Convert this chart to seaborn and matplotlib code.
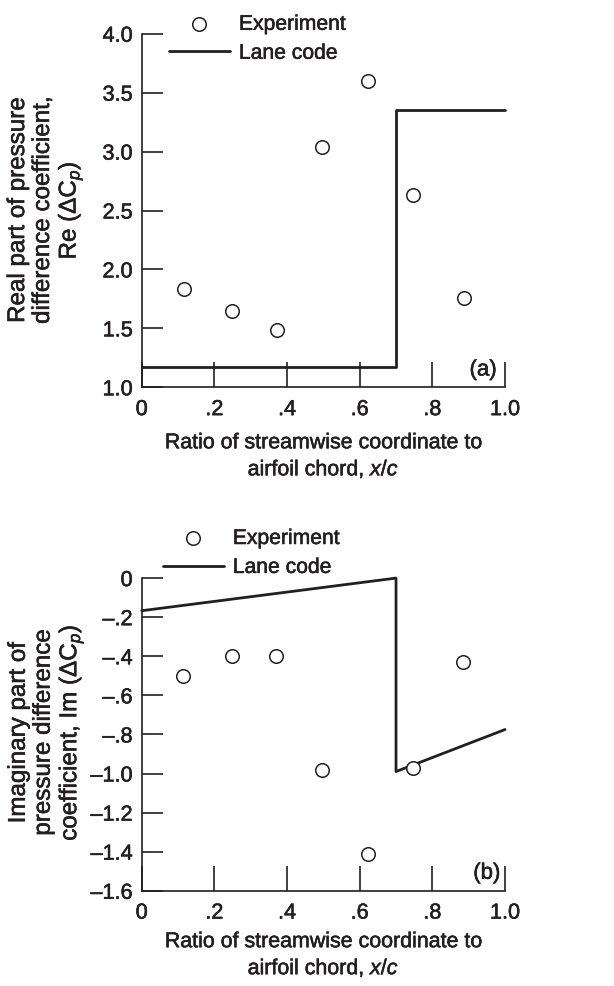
import matplotlib
matplotlib.use("Agg")
import matplotlib.pyplot as plt
import matplotlib.patheffects as pe
import pandas as pd
import seaborn as sns

# Experimental points (chordwise station, value)
x_exp_re = [0.117, 0.248, 0.372, 0.495, 0.622, 0.746, 0.887]
re_exp = [1.83, 1.65, 1.49, 3.04, 3.60, 2.63, 1.76]
x_exp_im = [0.115, 0.248, 0.370, 0.496, 0.624, 0.748, 0.885]
im_exp = [-0.50, -0.40, -0.40, -0.98, -1.41, -0.97, -0.43]

# Lane code prediction (piecewise, with a jump at x/c = 0.7)
x_lane = [0.0, 0.70, 0.70, 1.0]
re_lane = [1.17, 1.17, 3.35, 3.35]
im_lane = [-0.167, 0.0, -0.99, -0.775]

# Axis ticks and labels
x_ticks = [0.0, 0.2, 0.4, 0.6, 0.8, 1.0]
x_ticklabels = ["0", ".2", ".4", ".6", ".8", "1.0"]
re_ticks = [1.0, 1.5, 2.0, 2.5, 3.0, 3.5, 4.0]
re_ticklabels = ["1.0", "1.5", "2.0", "2.5", "3.0", "3.5", "4.0"]
im_ticks = [0.0, -0.2, -0.4, -0.6, -0.8, -1.0, -1.2, -1.4, -1.6]
im_ticklabels = ["0", "\u2013.2", "\u2013.4", "\u2013.6", "\u2013.8",
                 "\u20131.0", "\u20131.2", "\u20131.4", "\u20131.6"]

xlabel = "Ratio of streamwise coordinate to\nairfoil chord, $x/c$"
re_label = "Real part of pressure\ndifference coefficient,\nRe ($\\Delta\\mathrm{C}_p$)"
im_label = "Imaginary part of\npressure difference\ncoefficient, Im ($\\Delta\\mathrm{C}_p$)"

sns.set_theme(style="ticks")
INK = "#231f20"
FS_TICK = 15.6
FS_YLAB = 17.4
FS_XLAB = 15.4
FS_LEG = 15.2
FS_TAG = 16
plt.rcParams.update({
    "font.family": ["Liberation Sans", "DejaVu Sans"],
    "font.size": 16,
    "mathtext.fontset": "custom",
    "mathtext.rm": "Liberation Sans",
    "mathtext.it": "Liberation Sans:italic",
    "mathtext.bf": "Liberation Sans:bold",
    "text.color": INK,
    "axes.labelcolor": INK,
    "xtick.color": INK,
    "ytick.color": INK,
    "axes.edgecolor": INK,
    "axes.linewidth": 1.2,
})
# slightly heavier strokes for all lettering
HEAVY = [pe.withStroke(linewidth=0.4, foreground=INK)]

fig = plt.figure(figsize=(6.14, 9.86), dpi=100)
ax_re = fig.add_axes([0.2308, 0.6072, 0.5917, 0.3586])
ax_im = fig.add_axes([0.2308, 0.0966, 0.5917, 0.3171])

df_re_exp = pd.DataFrame({"x": x_exp_re, "y": re_exp})
df_im_exp = pd.DataFrame({"x": x_exp_im, "y": im_exp})
df_re_lane = pd.DataFrame({"x": x_lane, "y": re_lane})
df_im_lane = pd.DataFrame({"x": x_lane, "y": im_lane})


def panel(ax, exp, lane, yticks, yticklabels, ylim, ylabel, ylab_pos,
          xlab_y, tag, tag_pos, legend_anchor):
    sns.scatterplot(data=exp, x="x", y="y", ax=ax, marker="o", s=95,
                    facecolor="white", edgecolor=INK, linewidth=1.1,
                    label="Experiment", zorder=3, clip_on=False)
    sns.lineplot(data=lane, x="x", y="y", ax=ax, sort=False, estimator=None,
                 color=INK, linewidth=2.0, label="Lane code", zorder=2)
    for ln in ax.lines:
        ln.set_clip_on(False)
    ax.set_xlim(0, 1.0)
    ax.set_ylim(*ylim)
    ax.set_xticks(x_ticks, x_ticklabels)
    ax.set_yticks(yticks, yticklabels)
    ax.tick_params(axis="y", direction="in", length=15, width=1.2, pad=6.5,
                   labelsize=FS_TICK)
    ax.tick_params(axis="x", direction="in", length=18, width=1.2, pad=8.5,
                   labelsize=FS_TICK)
    sns.despine(ax=ax)
    ax.set_xlabel(xlabel, fontsize=FS_XLAB, linespacing=1.4, va="center")
    ax.xaxis.set_label_coords(0.5, xlab_y)
    ax.set_ylabel(ylabel, fontsize=FS_YLAB, linespacing=1.17, va="center")
    ax.yaxis.set_label_coords(ylab_pos[0], ylab_pos[1])
    t = ax.text(tag_pos[0], tag_pos[1], tag, transform=ax.transAxes,
                ha="center", va="center", fontsize=FS_TAG)
    t.set_path_effects(HEAVY)
    handles, labels = ax.get_legend_handles_labels()
    leg = ax.legend(handles, labels, loc="upper left", frameon=False,
                    bbox_to_anchor=legend_anchor,
                    bbox_transform=fig.transFigure,
                    borderpad=0, borderaxespad=0, handlelength=2.9,
                    handletextpad=0.42, labelspacing=0.47, fontsize=FS_LEG)
    for txt in leg.get_texts():
        txt.set_path_effects(HEAVY)
    for lab in ax.get_xticklabels() + ax.get_yticklabels():
        lab.set_path_effects(HEAVY)
    ax.xaxis.label.set_path_effects(HEAVY)
    ax.yaxis.label.set_path_effects(HEAVY)


panel(ax_re, df_re_exp, df_re_lane, re_ticks, re_ticklabels, (1.0, 4.0),
      re_label, (-0.264, 0.5), -0.196, "(a)", (0.94, 0.049),
      (0.275, 0.985))
panel(ax_im, df_im_exp, df_im_lane, im_ticks, im_ticklabels, (-1.6, 0.0),
      im_label, (-0.262, 0.505), -0.207, "(b)", (0.95, 0.056),
      (0.265, 0.4635))

fig.savefig("out.png", dpi=100)
